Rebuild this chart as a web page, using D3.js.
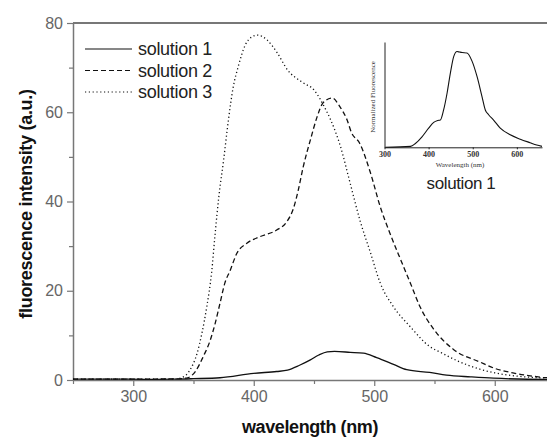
<!DOCTYPE html>
<html>
<head>
<meta charset="utf-8">
<script src="https://cdn.jsdelivr.net/npm/d3@7"></script>
<style>
  body { margin: 0; background: #fff; }
  svg { display: block; }
</style>
</head>
<body>
<div id="chart"></div>
<script>
// main spectra, [wavelength nm, intensity a.u.]
const solution1 = [
  [250, 0.2], [280, 0.2], [310, 0.15], [335, 0.2], [350, 0.3], [372, 0.5], [400, 1.5],
  [419, 1.9], [428, 2.2], [438, 3.3], [447, 4.5], [454, 5.6], [461, 6.3], [467, 6.4],
  [480, 6.2], [491, 6.0], [502, 5.0], [516, 3.5], [527, 2.3], [546, 1.7], [560, 1.1],
  [580, 0.7], [599, 0.4], [643, 0.15], [650, 0.15]
];
const solution2 = [
  [250, 0.2], [300, 0.2], [335, 0.25], [345, 0.5], [351.5, 1.9], [358, 5.2], [364, 9],
  [368, 12.7], [372, 17.2], [376, 21.7], [380.5, 24.6], [386, 28.4], [394, 30.6],
  [405, 32.1], [419, 33.6], [427.5, 35.5], [433, 38.5], [437, 42.6], [441, 47.7],
  [447, 53.8], [452.5, 58.9], [457.5, 62.1], [465, 63.2], [471.6, 61.2], [477.4, 58.3],
  [481, 55.5], [488, 53], [497, 46.3], [505, 38.8], [513, 32.9], [522, 26.9], [530, 21.7],
  [538, 16.4], [549, 11.5], [566, 6.8], [588, 4.0], [600, 2.6], [615, 1.6], [640, 0.6],
  [650, 0.4]
];
const solution3 = [
  [250, 0.2], [300, 0.2], [334, 0.2], [340, 0.5], [347, 2.2], [353, 6], [357, 10.5],
  [361, 16.4], [365, 24], [368, 32.9], [371, 41], [375, 49.3], [379, 58.3], [383, 65.7],
  [387, 70.1], [393, 75.1], [398, 76.8], [403, 77.3], [411, 76.2], [419.5, 73.3],
  [428, 69.5], [441, 66.6], [450, 65], [455, 63], [458, 61.5], [463.5, 58.5], [472, 52.3],
  [480, 44.1], [488, 35.9], [497, 28.4], [505, 21.7], [516, 16.4], [530, 11.9],
  [546, 7.5], [555, 6.2], [569, 4.3], [588, 2.4], [600, 1.6], [621, 0.8], [650, 0.4]
];
// inset: normalized spectrum of solution 1
const insetSolution1 = [
  [302, 0.0], [359, 0.01], [370, 0.04], [385, 0.11], [400, 0.2], [411.5, 0.26],
  [420.6, 0.28], [426.7, 0.285], [434, 0.39], [442, 0.57], [449.5, 0.78], [457, 0.95],
  [464.5, 1.0], [470, 0.995], [476, 0.99], [487, 0.985], [498.4, 0.9], [509.7, 0.74],
  [521, 0.53], [528.5, 0.39], [536, 0.34], [547.3, 0.285], [562.4, 0.2], [585, 0.13],
  [607.7, 0.085], [630, 0.048], [645, 0.024], [657, 0.01]
];

const seriesNames = ["solution 1", "solution 2", "solution 3"];
const xTicks = [300, 400, 500, 600];
const xMinorTicks = [250, 350, 450, 550, 650];
const yTicks = [0, 20, 40, 60, 80];
const yMinorTicks = [10, 30, 50, 70];
const insetXTicks = [300, 400, 500, 600];

const width = 547, height = 439;
const dashes = ["none", "5,3", "1.2,2.6"];

const svg = d3.select("#chart").append("svg")
  .attr("width", width)
  .attr("height", height)
  .attr("viewBox", `0 0 ${width} ${height}`)
  .style("font-family", "'Liberation Sans', Arial, sans-serif");

const x = d3.scaleLinear().domain([250, 650]).range([73, 555]);
const y = d3.scaleLinear().domain([0, 80]).range([380, 23]);

const axisColor = "#777";

// top frame line
svg.append("line")
  .attr("x1", x(250)).attr("x2", width)
  .attr("y1", y(80)).attr("y2", y(80))
  .attr("stroke", axisColor).attr("stroke-width", 2);

// x axis
const xAxis = svg.append("g")
  .attr("transform", `translate(0,${y(0)})`)
  .call(d3.axisBottom(x).tickValues(xTicks).tickSize(6).tickSizeOuter(0).tickPadding(5));
svg.append("g")
  .attr("transform", `translate(0,${y(0)})`)
  .call(d3.axisBottom(x).tickValues(xMinorTicks).tickSize(4).tickSizeOuter(0).tickFormat(""))
  .call(g => g.select(".domain").remove());

// y axis
const yAxis = svg.append("g")
  .attr("transform", `translate(${x(250)},0)`)
  .call(d3.axisLeft(y).tickValues(yTicks).tickSize(6).tickSizeOuter(0).tickPadding(4));
svg.append("g")
  .attr("transform", `translate(${x(250)},0)`)
  .call(d3.axisLeft(y).tickValues(yMinorTicks).tickSize(4).tickSizeOuter(0).tickFormat(""))
  .call(g => g.select(".domain").remove());

svg.selectAll(".domain").attr("stroke", axisColor).attr("stroke-width", 1.5);
svg.selectAll(".tick line").attr("stroke", axisColor).attr("stroke-width", 1.2);
svg.selectAll(".tick text")
  .attr("fill", "#666")
  .attr("font-size", 16)
  .attr("font-family", "'Liberation Sans', Arial, sans-serif");

// axis titles
svg.append("text")
  .attr("x", 310).attr("y", 433)
  .attr("text-anchor", "middle")
  .attr("font-size", 18).attr("font-weight", "bold")
  .attr("letter-spacing", -0.4)
  .attr("fill", "#111")
  .text("wavelength (nm)");

svg.append("text")
  .attr("transform", "translate(32,204) rotate(-90)")
  .attr("text-anchor", "middle")
  .attr("font-size", 18).attr("font-weight", "bold")
  .attr("letter-spacing", -0.3)
  .attr("fill", "#111")
  .text("fluorescence intensity (a.u.)");

// curves
const line = d3.line()
  .x(d => x(d[0]))
  .y(d => y(d[1]))
  .curve(d3.curveMonotoneX);

const allSeries = [solution1, solution2, solution3];
svg.append("g")
  .selectAll("path")
  .data(allSeries)
  .join("path")
  .attr("d", line)
  .attr("fill", "none")
  .attr("stroke", "#111")
  .attr("stroke-width", 1.3)
  .attr("stroke-dasharray", (d, i) => dashes[i]);

// legend
const legend = svg.append("g");
const legendY = d3.scalePoint().domain(seriesNames).range([49, 92]);
legend.selectAll("line")
  .data(seriesNames)
  .join("line")
  .attr("x1", 85).attr("x2", 132)
  .attr("y1", d => legendY(d)).attr("y2", d => legendY(d))
  .attr("stroke", "#111")
  .attr("stroke-width", 1.2)
  .attr("stroke-dasharray", (d, i) => dashes[i]);
legend.selectAll("text")
  .data(seriesNames)
  .join("text")
  .attr("x", 138)
  .attr("y", d => legendY(d))
  .attr("dy", "0.36em")
  .attr("font-size", 18)
  .attr("letter-spacing", -0.3)
  .attr("fill", "#222")
  .text(d => d);

// inset
const ix = d3.scaleLinear().domain([300, 657]).range([384.5, 542]);
const iy = d3.scaleLinear().domain([0, 1.1]).range([147.3, 42]);
const inset = svg.append("g")
  .style("font-family", "'Liberation Serif', 'Times New Roman', serif");

inset.append("g")
  .attr("transform", `translate(0,${iy(0)})`)
  .call(d3.axisBottom(ix).tickValues(insetXTicks).tickSize(2).tickSizeOuter(0).tickPadding(2))
  .call(g => g.selectAll("text")
    .attr("font-size", 8).attr("font-weight", "bold").attr("fill", "#333")
    .attr("font-family", "'Liberation Serif', 'Times New Roman', serif"));
inset.append("g")
  .attr("transform", `translate(${ix(300)},0)`)
  .call(d3.axisLeft(iy).tickValues([]).tickSizeOuter(0));
inset.selectAll(".domain").attr("stroke", "#222").attr("stroke-width", 1);
inset.selectAll(".tick line").attr("stroke", "#222");

inset.append("path")
  .datum(insetSolution1)
  .attr("d", d3.line().x(d => ix(d[0])).y(d => iy(d[1])).curve(d3.curveMonotoneX))
  .attr("fill", "none")
  .attr("stroke", "#111")
  .attr("stroke-width", 1.1);

inset.append("text")
  .attr("x", 460).attr("y", 167)
  .attr("text-anchor", "middle")
  .attr("font-size", 7)
  .attr("fill", "#333")
  .text("Wavelength (nm)");
inset.append("text")
  .attr("transform", "translate(375,97) rotate(-90)")
  .attr("text-anchor", "middle")
  .attr("font-size", 7)
  .attr("fill", "#333")
  .text("Normalized Fluorescence");

svg.append("text")
  .attr("x", 461).attr("y", 189)
  .attr("text-anchor", "middle")
  .attr("font-size", 17)
  .attr("letter-spacing", -0.4)
  .attr("fill", "#222")
  .text("solution 1");
</script>
</body>
</html>
